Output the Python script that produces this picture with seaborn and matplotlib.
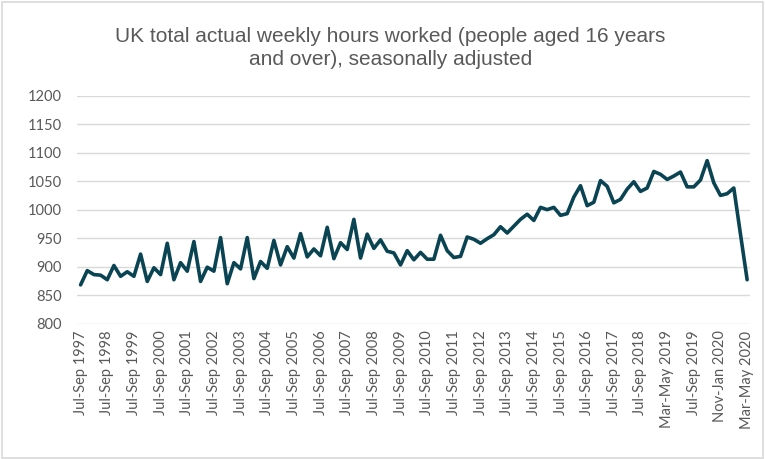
import matplotlib
matplotlib.use("Agg")
import matplotlib.pyplot as plt
import seaborn as sns
import pandas as pd
from matplotlib.patches import Rectangle

# ---- data ----
hours = [868, 893, 886, 885, 877, 902, 883, 891, 883, 922,
         874, 898, 886, 941, 877, 907, 892, 944, 874, 899,
         892, 951, 870, 907, 896, 951, 879, 909, 897, 946,
         903, 935, 915, 958, 917, 931, 919, 969, 914, 942,
         930, 983, 915, 957, 932, 947, 927, 924, 903, 928,
         912, 925, 913, 913, 955, 928, 916, 918, 952, 948,
         941, 949, 956, 970, 959, 971, 983, 992, 981, 1004,
         1000, 1004, 990, 993, 1022, 1042, 1007, 1013, 1051, 1041,
         1012, 1018, 1036, 1049, 1032, 1038, 1067, 1062, 1053, 1059,
         1066, 1040, 1040, 1052, 1086, 1047, 1025, 1028, 1038, 957,
         877]

quarter_names = ["Jul-Sep", "Oct-Dec", "Jan-Mar", "Apr-Jun"]
rolling_names = ["Feb-Apr", "Mar-May", "Apr-Jun", "May-Jul", "Jun-Aug", "Jul-Sep",
                 "Aug-Oct", "Sep-Nov", "Oct-Dec", "Nov-Jan", "Dec-Feb", "Jan-Mar",
                 "Feb-Apr", "Mar-May"]
rolling_years = [2019] * 8 + [2020] * 6

tick_labels = ["Jul-Sep 1997", "Jul-Sep 1998", "Jul-Sep 1999", "Jul-Sep 2000",
               "Jul-Sep 2001", "Jul-Sep 2002", "Jul-Sep 2003", "Jul-Sep 2004",
               "Jul-Sep 2005", "Jul-Sep 2006", "Jul-Sep 2007", "Jul-Sep 2008",
               "Jul-Sep 2009", "Jul-Sep 2010", "Jul-Sep 2011", "Jul-Sep 2012",
               "Jul-Sep 2013", "Jul-Sep 2014", "Jul-Sep 2015", "Jul-Sep 2016",
               "Jul-Sep 2017", "Jul-Sep 2018", "Mar-May 2019", "Jul-Sep 2019",
               "Nov-Jan 2020", "Mar-May 2020"]

# build the period (category) names
periods = []
year = 1997
for k in range(87):  # Jul-Sep 1997 ... Jan-Mar 2019
    name = quarter_names[k % 4]
    if name == "Jan-Mar":
        year += 1
    periods.append(f"{name} {year}")
for n, y in zip(rolling_names, rolling_years):
    periods.append(f"{n} {y}")

df = pd.DataFrame({"period": periods, "pos": range(len(periods)), "hours": hours})

# ---- plot ----
sns.set_theme(style="white")
plt.rcParams['font.family'] = ['Lato', 'DejaVu Sans']

fig = plt.figure(figsize=(7.65, 4.59), dpi=100)
ax = fig.add_axes([0.101, 0.295, 0.880, 0.4965])

sns.lineplot(data=df, x="pos", y="hours", ax=ax, color="#0a4452",
             linewidth=2.6, sort=False)

ax.set_xlim(-0.5, len(periods) - 0.5)
ax.set_ylim(800, 1200)
ax.set_yticks(range(800, 1201, 50))
ax.grid(axis="y", color="#d9d9d9", linewidth=1.0)
ax.set_axisbelow(True)
for s in ax.spines.values():
    s.set_visible(False)

tick_pos = [periods.index(t) for t in tick_labels]
ax.set_xticks(tick_pos)
ax.set_xticklabels(tick_labels, rotation=90)
ax.tick_params(axis="x", length=0, pad=5, labelsize=10.5, labelcolor="#595959")
ax.tick_params(axis="y", length=0, pad=11, labelsize=10.5, labelcolor="#595959")
ax.set_xlabel("")
ax.set_ylabel("")

fig.text(0.51, 1 - 48 / 459,
         "UK total actual weekly hours worked (people aged 16 years\nand over), seasonally adjusted",
         ha="center", va="center", fontsize=15, color="#595959",
         family=["Liberation Sans", "DejaVu Sans"], linespacing=1.25)

fig.patches.append(Rectangle((0.002, 0.002), 0.996, 0.994, transform=fig.transFigure,
                             fill=False, edgecolor="#d9d9d9", linewidth=1.2))

fig.savefig("out.png", dpi=100)
